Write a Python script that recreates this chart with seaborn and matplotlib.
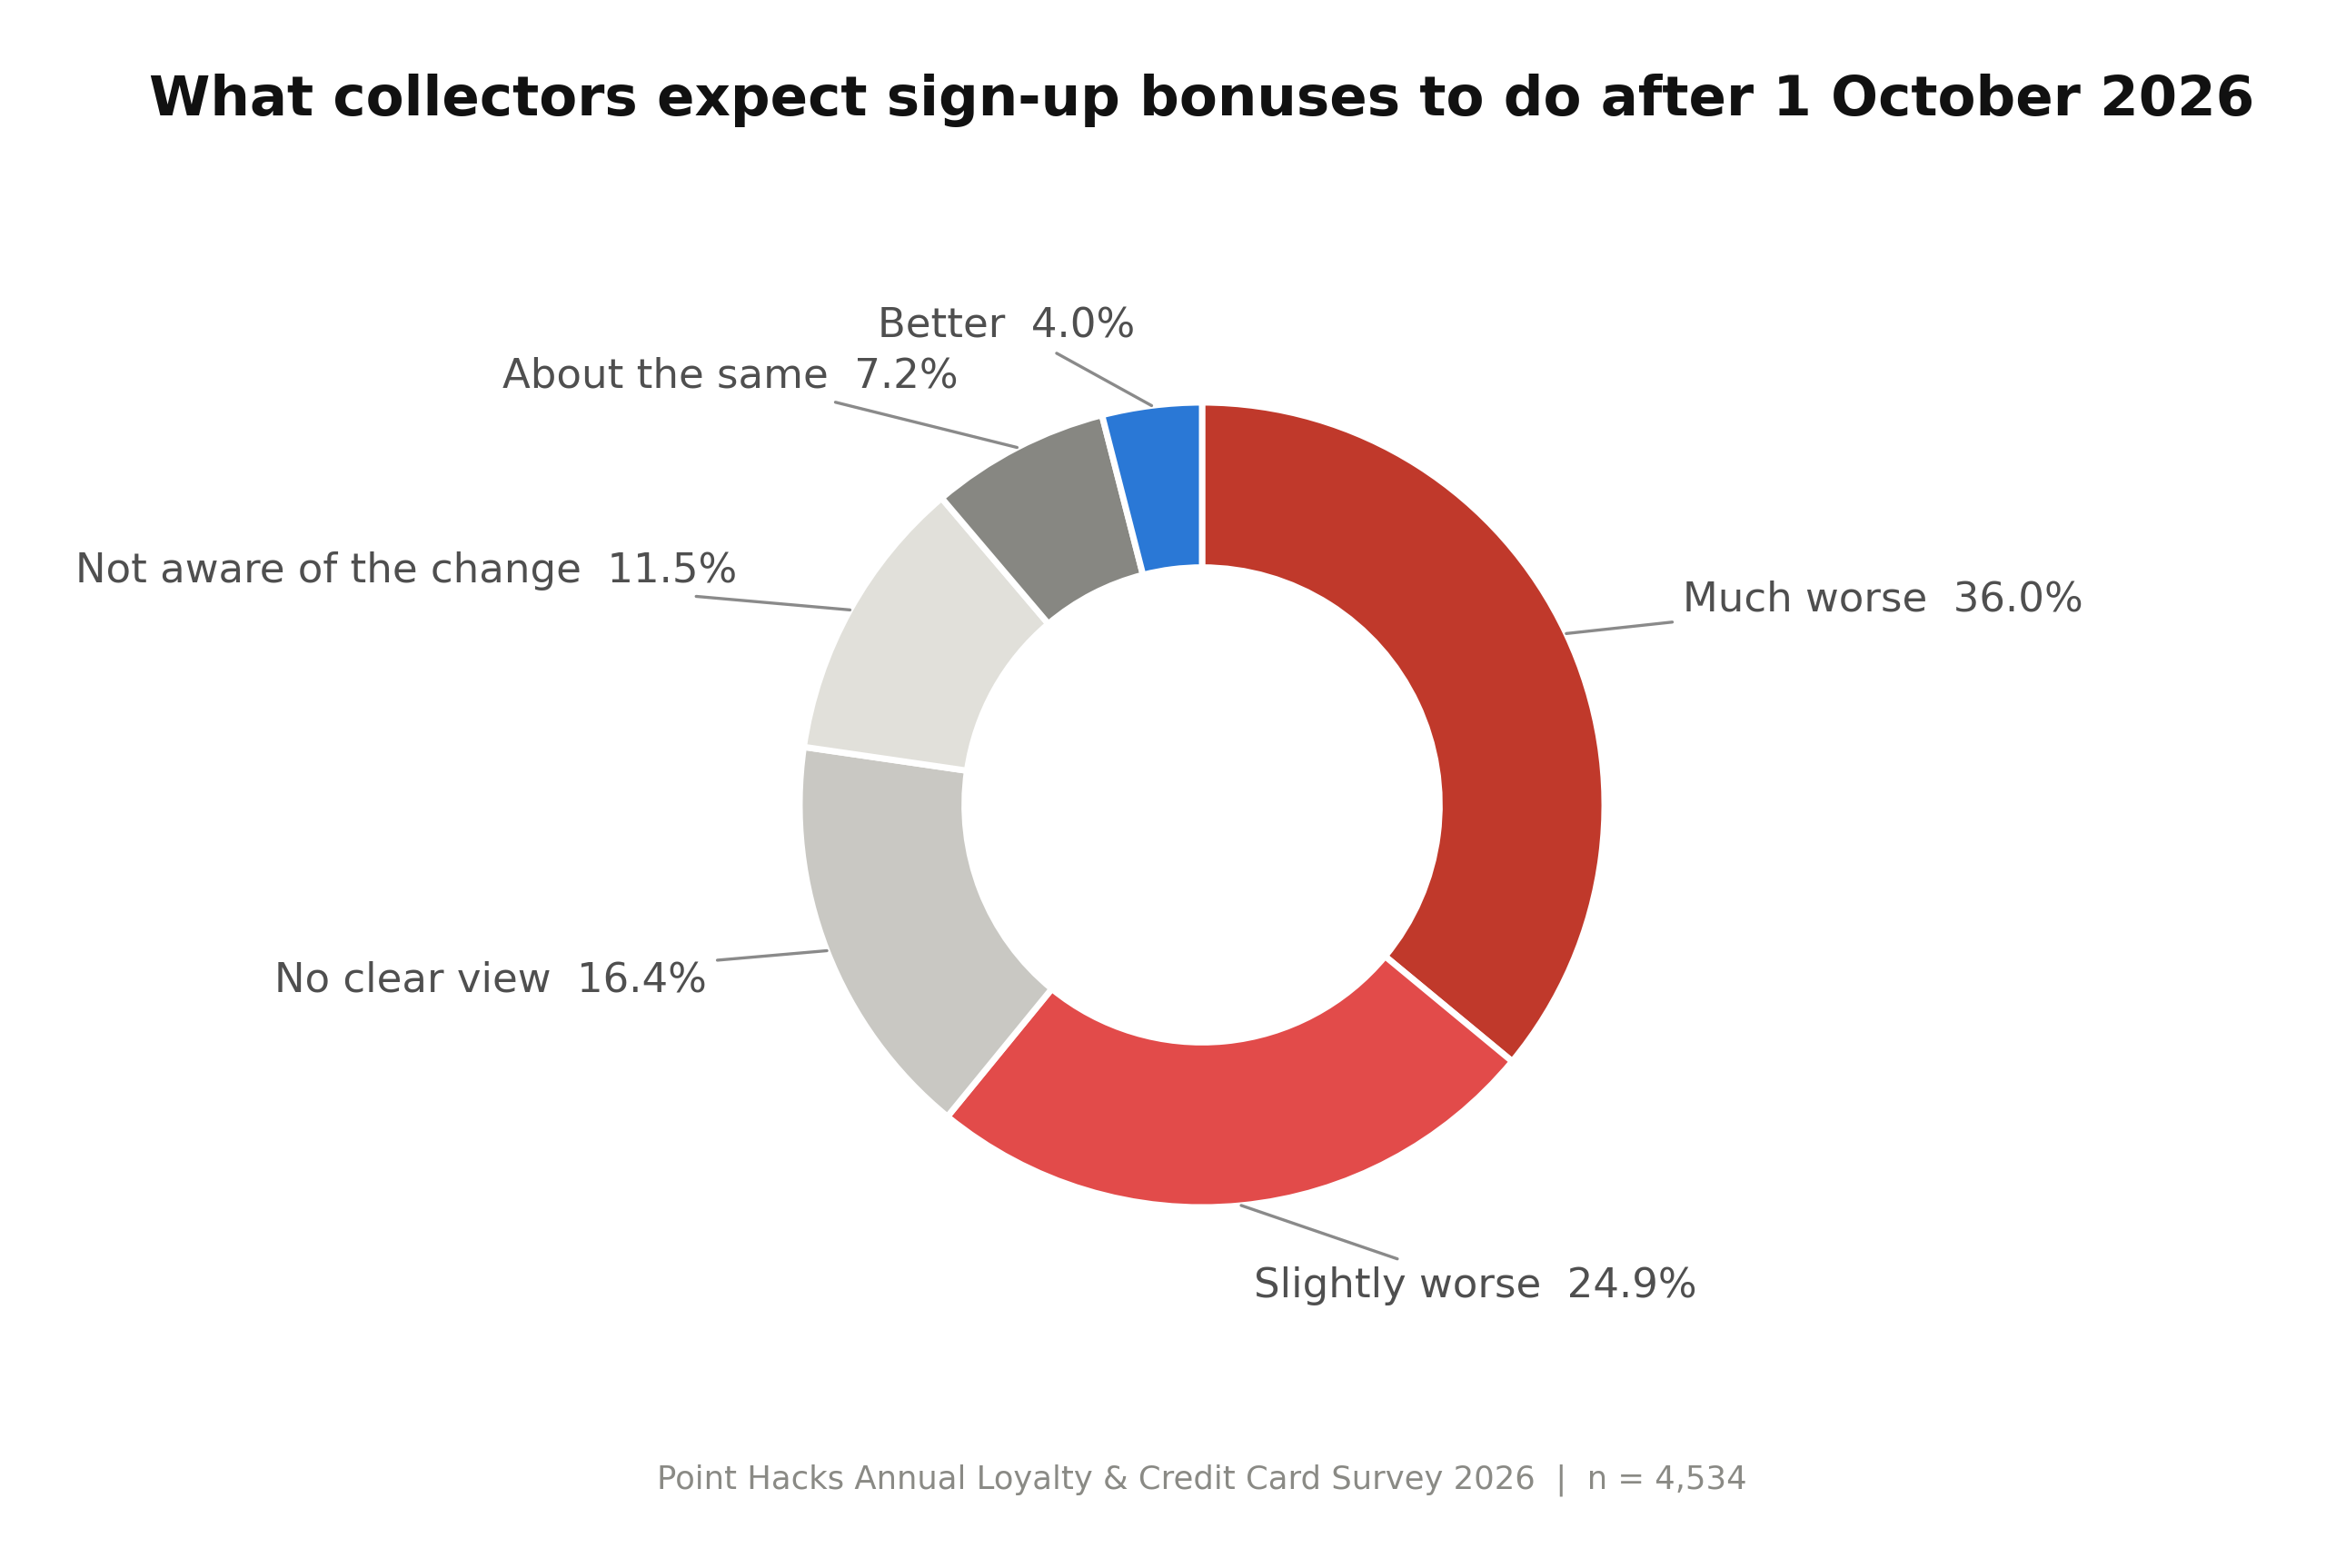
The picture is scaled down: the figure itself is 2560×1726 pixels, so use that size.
import numpy as np
import matplotlib
matplotlib.use("Agg")
import matplotlib.pyplot as plt
import seaborn as sns

# ---- data ----
categories = ["Much worse", "Slightly worse", "No clear view",
              "Not aware of the change", "About the same", "Better"]
shares = [36.0, 24.9, 16.4, 11.5, 7.2, 4.0]
colors = ["#C0392B", "#E24B4A", "#C9C8C3", "#E1E0DA", "#878782", "#2A78D6"]
title = "What collectors expect sign-up bonuses to do after 1 October 2026"
footer = "Point Hacks Annual Loyalty & Credit Card Survey 2026  |  n = 4,534"

sns.set_theme(style="white")
plt.rcParams["font.family"] = ["DejaVu Sans"]

W, H, DPI = 2560, 1726, 200
fig = plt.figure(figsize=(W / DPI, H / DPI), dpi=DPI)
fig.patch.set_facecolor("white")

# pie geometry in pixels
cx, cy_top, R = 1323, 886, 443
cy = H - cy_top
ax = fig.add_axes([0, 0, 1, 1])
wedges, _ = ax.pie(shares, colors=colors, startangle=90, counterclock=False,
                   radius=1.0, wedgeprops=dict(width=0.41, edgecolor="white",
                                               linewidth=2.5))
ax.set_aspect("auto")
ax.set_xlim(-cx / R, (W - cx) / R)
ax.set_ylim(-cy / R, (H - cy) / R)
ax.axis("off")

for w, cat, val in zip(wedges, categories, shares):
    ang = np.deg2rad((w.theta1 + w.theta2) / 2)
    x, y = np.cos(ang), np.sin(ang)
    ha = "left" if x > 0 else "right"
    ax.annotate(f"{cat}  {val:.1f}%", xy=(x, y), xytext=(1.32 * x, 1.2 * y),
                ha=ha, va="center", fontsize=16.2, color="#4F4F4F",
                arrowprops=dict(arrowstyle="-", color="#8A8A8A", lw=1.2,
                                shrinkA=2, shrinkB=0))

fig.text(cx / W, 1 - 111 / H, title, ha="center", va="center",
         fontsize=22, fontweight="bold", color="#111111")
fig.text(cx / W, 1 - 1629 / H, footer, ha="center", va="center",
         fontsize=12.75, color="#8A8A85")

fig.savefig("out.png", dpi=DPI, facecolor="white")
